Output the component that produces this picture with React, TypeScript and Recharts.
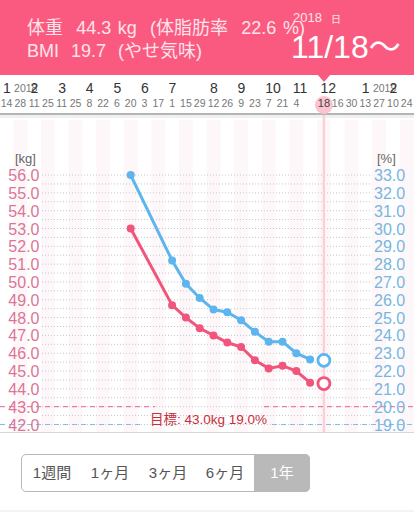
import { ComposedChart, Line, ReferenceArea, ReferenceLine, XAxis, YAxis } from "recharts";

const dayTicks = [0, 1, 2, 3, 4, 5, 6, 7, 8, 9, 10, 11, 12, 13, 14, 15, 16, 17, 18, 19, 20, 21, 23, 24, 25, 26, 27, 28, 29];
const dayLabels = ["14", "28", "11", "25", "11", "25", "8", "22", "6", "20", "3", "17", "1", "15", "29", "12", "26", "9", "23", "7", "21", "4", "18", "16", "30", "13", "27", "10", "24"];
const monthTicks = [0, 2, 4, 6, 8, 10, 12, 15, 17, 19, 21, 23, 26, 28];
const monthLabels = ["1", "2", "3", "4", "5", "6", "7", "8", "9", "10", "11", "12", "1", "2"];
const yearLabels: Record<number, string> = { 2: "2018", 28: "2019" };

const kgTicks = [42, 43, 44, 45, 46, 47, 48, 49, 50, 51, 52, 53, 54, 55, 56];
const pctTicks = [19, 20, 21, 22, 23, 24, 25, 26, 27, 28, 29, 30, 31, 32, 33];
const gridValues = [42, 42.5, 43, 43.5, 44, 44.5, 45, 45.5, 46, 46.5, 47, 47.5, 48, 48.5, 49, 49.5, 50, 50.5, 51, 51.5, 52, 52.5, 53, 53.5, 54, 54.5, 55, 55.5, 56];
const bandCenters = [1, 3, 5, 7, 9, 11, 13, 15, 17, 19, 21, 23, 25, 27, 29];

const weeks = [9, 12, 13, 14, 15, 16, 17, 18, 19, 20, 21, 22];
const weight = [53.0, 48.7, 48.0, 47.4, 47.0, 46.6, 46.35, 45.6, 45.15, 45.3, 45.0, 44.35];
const bodyFat = [33.0, 28.2, 26.9, 26.1, 25.45, 25.3, 24.85, 24.2, 23.65, 23.65, 23.0, 22.65];
const latestWeek = 23;
const latestWeight = 44.3;
const latestFat = 22.6;
const goalWeight = 43;
const goalFat = 19;

const rows: any[] = weeks.map((week, i) => ({ week, weight: weight[i], bodyFat: bodyFat[i] }));
rows.push({ week: latestWeek, latestWeight, latestFat });

const sans = '"Liberation Sans", Arial, sans-serif';
const jp = '"Liberation Sans", "Noto Sans CJK JP", sans-serif';
const pink = "#f2557c";
const blue = "#5cb5ee";

function DayTick({ x, payload }: any) {
  const label = dayLabels[dayTicks.indexOf(payload.value)];
  const current = payload.value === latestWeek;
  return (
    <g>
      {current && <circle cx={x} cy={105} r={9} fill="#fbc4d0" />}
      <text x={x} y={107} textAnchor="middle" fontFamily={sans} fontSize={current ? 11 : 10.5} fill={current ? "#444" : "#777"}>
        {label}
      </text>
    </g>
  );
}

function MonthTick({ x, payload }: any) {
  const label = monthLabels[monthTicks.indexOf(payload.value)];
  const year = yearLabels[payload.value];
  return (
    <g>
      {year && (
        <text x={x - 20} y={92} fontFamily={sans} fontSize={10.5} fill="#777">
          {year}
        </text>
      )}
      <text x={x - 3.5} y={93} fontFamily={sans} fontSize={14} fill="#333">
        {label}
      </text>
    </g>
  );
}

function KgTick({ y, payload }: any) {
  return (
    <text x={39.5} y={y + 6} textAnchor="end" fontFamily={sans} fontSize={16} fill="#dc7595">
      {payload.value.toFixed(1)}
    </text>
  );
}

function PctTick({ y, payload }: any) {
  return (
    <text x={374} y={y + 6} fontFamily={sans} fontSize={16} fill="#76b6e2">
      {payload.value.toFixed(1)}
    </text>
  );
}

function seg(value: number, from: number, to: number) {
  return [
    { x: from, y: value },
    { x: to, y: value }
  ];
}

export default function App() {
  return (
    <div style={{ position: "absolute", left: 0, top: 0, width: 414, height: 512, background: "#fff", overflow: "hidden" }}>
      <div style={{ position: "absolute", left: 0, top: 113, width: 414, height: 2, background: "#b5b5b5" }} />
      <div style={{ position: "absolute", left: 0, top: 115, width: 414, height: 3, background: "#f0f0f0" }} />

      <div style={{ position: "absolute", left: 0, top: 0 }}>
        <ComposedChart width={414} height={512} data={rows} margin={{ top: 0, right: -1, bottom: 80, left: -1 }}>
          <XAxis
            xAxisId="day"
            dataKey="week"
            type="number"
            orientation="top"
            height={50}
            domain={[-0.471, 29.529]}
            ticks={dayTicks}
            interval={0}
            allowDataOverflow
            axisLine={false}
            tickLine={false}
            tick={DayTick}
          />
          <XAxis
            xAxisId="month"
            dataKey="week"
            type="number"
            orientation="top"
            height={65}
            domain={[-0.471, 29.529]}
            ticks={monthTicks}
            interval={0}
            allowDataOverflow
            axisLine={false}
            tickLine={false}
            tick={MonthTick}
          />
          <YAxis yAxisId="kg" width={1} domain={[41.58, 59.37]} ticks={kgTicks} interval={0} allowDataOverflow axisLine={false} tickLine={false} tick={KgTick} />
          <YAxis yAxisId="pct" orientation="right" width={1} domain={[18.58, 36.37]} ticks={pctTicks} interval={0} allowDataOverflow axisLine={false} tickLine={false} tick={PctTick} />

          {bandCenters.map((c) => (
            <ReferenceArea key={c} xAxisId="day" yAxisId="kg" x1={c - 0.5} x2={Math.min(c + 0.5, 29.52)} y1={41.58} y2={59.1} fill="#fef7f9" fillOpacity={1} stroke="none" />
          ))}
          {gridValues.map((v) => (
            <ReferenceLine key={v} xAxisId="day" yAxisId="kg" segment={seg(v, 2.57, 26.5)} stroke="#c6c6c6" strokeWidth={1} strokeDasharray="1 2" />
          ))}
          <ReferenceLine xAxisId="day" yAxisId="kg" x={latestWeek} stroke="#fbd0d8" strokeWidth={2.5} />
          <ReferenceLine xAxisId="day" yAxisId="kg" segment={seg(goalWeight, -0.47, 10.76)} stroke="#e8638c" strokeWidth={1} strokeDasharray="5 4" />
          <ReferenceLine xAxisId="day" yAxisId="kg" segment={seg(goalWeight, 18.66, 29.52)} stroke="#e8638c" strokeWidth={1} strokeDasharray="5 4" />
          <ReferenceLine xAxisId="day" yAxisId="pct" segment={seg(goalFat, -0.47, 9.96)} stroke="#7cc0e2" strokeWidth={1} strokeDasharray="5 4" />
          <ReferenceLine xAxisId="day" yAxisId="pct" segment={seg(goalFat, 19.24, 29.52)} stroke="#7cc0e2" strokeWidth={1} strokeDasharray="5 4" />

          <Line xAxisId="day" yAxisId="pct" dataKey="bodyFat" stroke={blue} strokeWidth={3} dot={{ r: 4, fill: blue, stroke: blue, strokeWidth: 0 }} connectNulls={false} isAnimationActive={false} />
          <Line xAxisId="day" yAxisId="kg" dataKey="weight" stroke={pink} strokeWidth={3} dot={{ r: 4, fill: pink, stroke: pink, strokeWidth: 0 }} connectNulls={false} isAnimationActive={false} />
          <Line xAxisId="day" yAxisId="pct" dataKey="latestFat" stroke={blue} dot={{ r: 6, fill: "#fff", stroke: blue, strokeWidth: 2.8 }} isAnimationActive={false} />
          <Line xAxisId="day" yAxisId="kg" dataKey="latestWeight" stroke={pink} dot={{ r: 6, fill: "#fff", stroke: pink, strokeWidth: 2.8 }} isAnimationActive={false} />
        </ComposedChart>
      </div>

      <div style={{ position: "absolute", left: 0, top: 432, width: 414, height: 1, background: "#d8d8d8" }} />
      <div style={{ position: "absolute", left: 0, top: 510, width: 414, height: 2, background: "#f4f4f4" }} />

      <div style={{ position: "absolute", left: 15, top: 151, fontFamily: sans, fontSize: 13, color: "#666" }}>[kg]</div>
      <div style={{ position: "absolute", left: 377, top: 151, fontFamily: sans, fontSize: 13, color: "#666" }}>[%]</div>
      <div style={{ position: "absolute", left: 150, top: 408, fontFamily: jp, fontSize: 13.5, color: "#c4303a", whiteSpace: "nowrap" }}>目標: 43.0kg 19.0%</div>

      <div style={{ position: "absolute", left: 0, top: 0, width: 414, height: 75, background: "#fb5a80" }} />
      <svg width={20} height={10} style={{ position: "absolute", left: 314, top: 74 }}>
        <path d="M3 0 L17 0 L10 8 Z" fill="#fb5a80" />
      </svg>
      <div style={{ position: "absolute", left: 27, top: 13, fontFamily: jp, fontSize: 18, wordSpacing: 1.6, color: "#fde3ea", whiteSpace: "pre" }}>体重  44.3 kg  (体脂肪率  22.6 %)</div>
      <div style={{ position: "absolute", left: 27, top: 36, fontFamily: jp, fontSize: 18, wordSpacing: 1, color: "#fde3ea", whiteSpace: "pre" }}>BMI  19.7  (やせ気味)</div>
      <div style={{ position: "absolute", left: 293, top: 10, fontFamily: sans, fontSize: 13, color: "#fde3ea" }}>2018</div>
      <div style={{ position: "absolute", left: 331, top: 11, fontFamily: jp, fontSize: 10, color: "#fde3ea" }}>日</div>
      <div style={{ position: "absolute", left: 291, top: 21, fontFamily: jp, fontSize: 32, color: "#fff", whiteSpace: "nowrap" }}>11/18〜</div>

      <div style={{ position: "absolute", left: 21, top: 454, width: 287, height: 36, border: "1px solid #b8b8b8", borderRadius: 5, background: "#fff" }} />
      <div style={{ position: "absolute", left: 254, top: 454, width: 56, height: 38, borderRadius: "0 5px 5px 0", background: "#b9b9b9", color: "#fff", fontFamily: jp, fontSize: 15, lineHeight: "37px", textAlign: "center" }}>1年</div>
      {[["1週間", 52], ["1ヶ月", 110], ["3ヶ月", 168], ["6ヶ月", 225]].map(([label, center]) => (
        <div key={label as string} style={{ position: "absolute", left: (center as number) - 30, top: 454, width: 60, fontFamily: jp, fontSize: 15, lineHeight: "37px", textAlign: "center", color: "#555" }}>
          {label}
        </div>
      ))}
    </div>
  );
}
